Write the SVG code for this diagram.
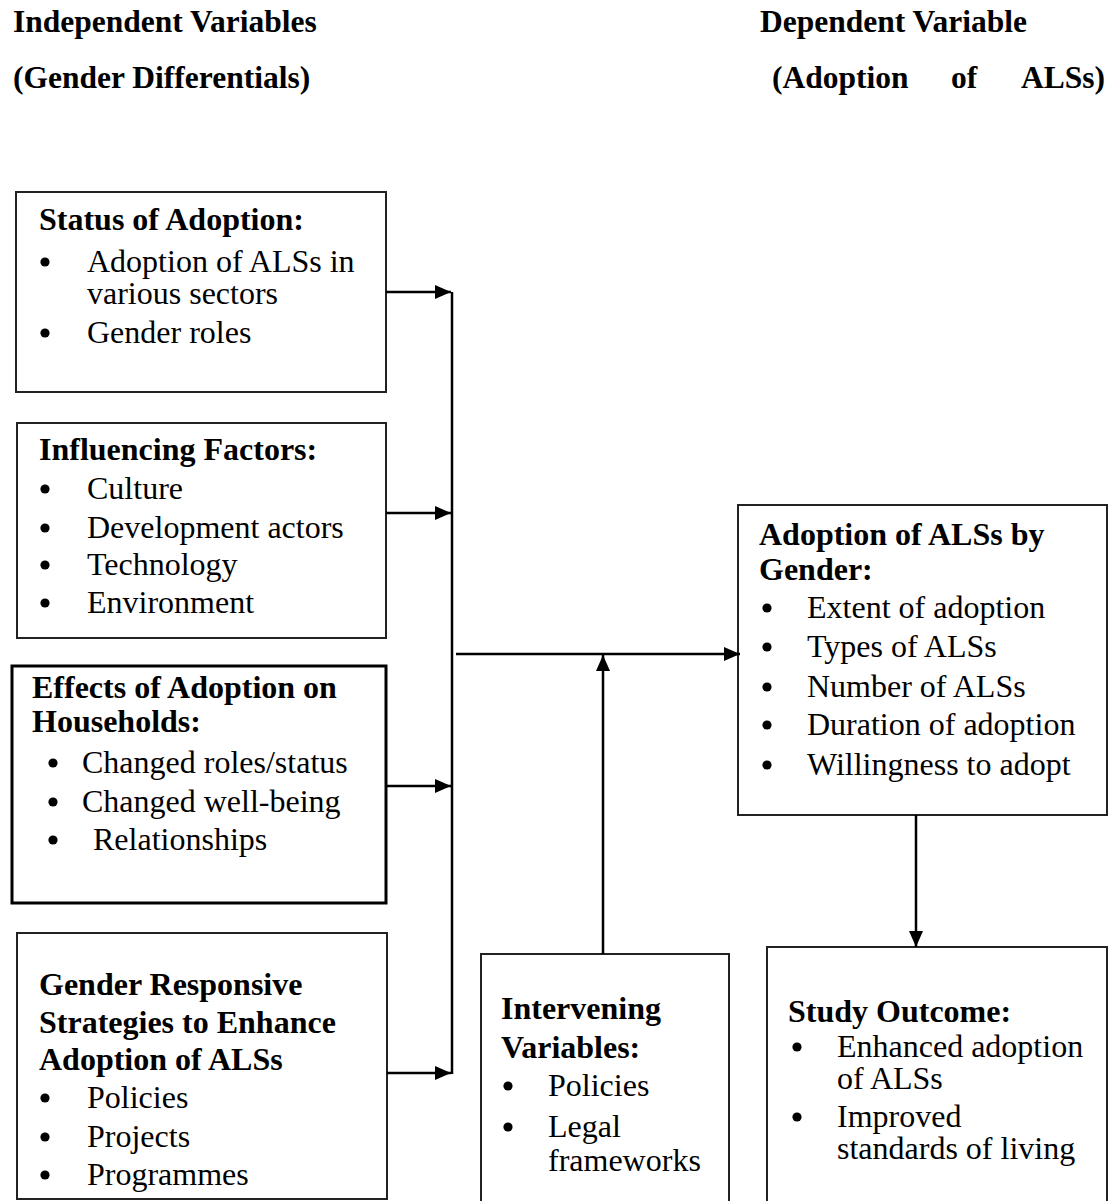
<svg xmlns="http://www.w3.org/2000/svg" width="1113" height="1201" viewBox="0 0 1113 1201" font-family="Liberation Serif, 'Times New Roman', serif" font-size="32">
<style>
.h{font-weight:bold}
.hd{font-weight:bold;font-size:31.5px}
.dot{fill:#000}
.box{fill:none;stroke:#222;stroke-width:2}
.box3{fill:none;stroke:#000;stroke-width:3}
.con{fill:none;stroke:#000;stroke-width:2.5}
</style>
<defs>
<marker id="ah" markerUnits="userSpaceOnUse" markerWidth="16" markerHeight="14" refX="16" refY="7" orient="auto">
<path d="M0,0 L16,7 L0,14 Z" fill="#000"/>
</marker>
<circle id="bul" r="4.6" class="dot"/>
</defs>
<rect width="1113" height="1201" fill="#fff"/>
<g id="header">
<text class="hd" x="13" y="32">Independent Variables</text>
<text class="hd" x="760" y="32">Dependent Variable</text>
<text class="hd" x="13" y="88">(Gender Differentials)</text>
<text class="hd" y="88"><tspan x="772">(Adoption</tspan><tspan x="951">of</tspan><tspan x="1021">ALSs)</tspan></text>
</g>
<g id="status">
<rect class="box" x="16" y="192" width="370" height="200"/>
<text class="h" x="39" y="230">Status of Adoption:</text>
<use href="#bul" x="45" y="262"/><text x="87" y="272">Adoption of ALSs in</text>
<text x="87" y="304">various sectors</text>
<use href="#bul" x="45" y="333"/><text x="87" y="343">Gender roles</text>
</g>
<g id="influencing">
<rect class="box" x="17" y="423" width="369" height="215"/>
<text class="h" x="39" y="460">Influencing Factors:</text>
<use href="#bul" x="45" y="489"/><text x="87" y="499">Culture</text>
<use href="#bul" x="45" y="528"/><text x="87" y="538">Development actors</text>
<use href="#bul" x="45" y="565"/><text x="87" y="575">Technology</text>
<use href="#bul" x="45" y="603"/><text x="87" y="613">Environment</text>
</g>
<g id="effects">
<rect class="box3" x="12" y="666" width="374" height="237"/>
<text class="h" x="32" y="698">Effects of Adoption on</text>
<text class="h" x="32" y="732">Households:</text>
<use href="#bul" x="53" y="763"/><text x="82" y="773">Changed roles/status</text>
<use href="#bul" x="53" y="802"/><text x="82" y="812">Changed well-being</text>
<use href="#bul" x="53" y="840"/><text x="93" y="850">Relationships</text>
</g>
<g id="strategies">
<rect class="box" x="17" y="933" width="370" height="266"/>
<text class="h" x="39" y="995">Gender Responsive</text>
<text class="h" x="39" y="1033">Strategies to Enhance</text>
<text class="h" x="39" y="1070">Adoption of ALSs</text>
<use href="#bul" x="45" y="1098"/><text x="87" y="1108">Policies</text>
<use href="#bul" x="45" y="1137"/><text x="87" y="1147">Projects</text>
<use href="#bul" x="45" y="1175"/><text x="87" y="1185">Programmes</text>
</g>
<g id="intervening">
<rect class="box" x="481" y="954" width="248" height="260"/>
<text class="h" x="501" y="1019">Intervening</text>
<text class="h" x="501" y="1058">Variables:</text>
<use href="#bul" x="508" y="1086"/><text x="548" y="1096">Policies</text>
<use href="#bul" x="508" y="1127"/><text x="548" y="1137">Legal</text>
<text x="548" y="1171">frameworks</text>
</g>
<g id="adoption">
<rect class="box" x="738" y="505" width="369" height="310"/>
<text class="h" x="759" y="545">Adoption of ALSs by</text>
<text class="h" x="759" y="580">Gender:</text>
<use href="#bul" x="767" y="608"/><text x="807" y="618">Extent of adoption</text>
<use href="#bul" x="767" y="647"/><text x="807" y="657">Types of ALSs</text>
<use href="#bul" x="767" y="687"/><text x="807" y="697">Number of ALSs</text>
<use href="#bul" x="767" y="725"/><text x="807" y="735">Duration of adoption</text>
<use href="#bul" x="767" y="765"/><text x="807" y="775">Willingness to adopt</text>
</g>
<g id="outcome">
<rect class="box" x="767" y="947" width="340" height="270"/>
<text class="h" x="788" y="1022">Study Outcome:</text>
<use href="#bul" x="797" y="1047"/><text x="837" y="1057">Enhanced adoption</text>
<text x="837" y="1089">of ALSs</text>
<use href="#bul" x="797" y="1117"/><text x="837" y="1127">Improved</text>
<text x="837" y="1159">standards of living</text>
</g>
<g id="connectors">
<line class="con" x1="452" y1="292" x2="452" y2="1074"/>
<line class="con" x1="386" y1="292" x2="451" y2="292" marker-end="url(#ah)"/>
<line class="con" x1="386" y1="513" x2="451" y2="513" marker-end="url(#ah)"/>
<line class="con" x1="386" y1="786" x2="451" y2="786" marker-end="url(#ah)"/>
<line class="con" x1="387" y1="1073" x2="451" y2="1073" marker-end="url(#ah)"/>
<line class="con" x1="456" y1="654" x2="740" y2="654" marker-end="url(#ah)"/>
<line class="con" x1="603" y1="954" x2="603" y2="655" marker-end="url(#ah)"/>
<line class="con" x1="916" y1="815" x2="916" y2="947" marker-end="url(#ah)"/>
</g>
</svg>
